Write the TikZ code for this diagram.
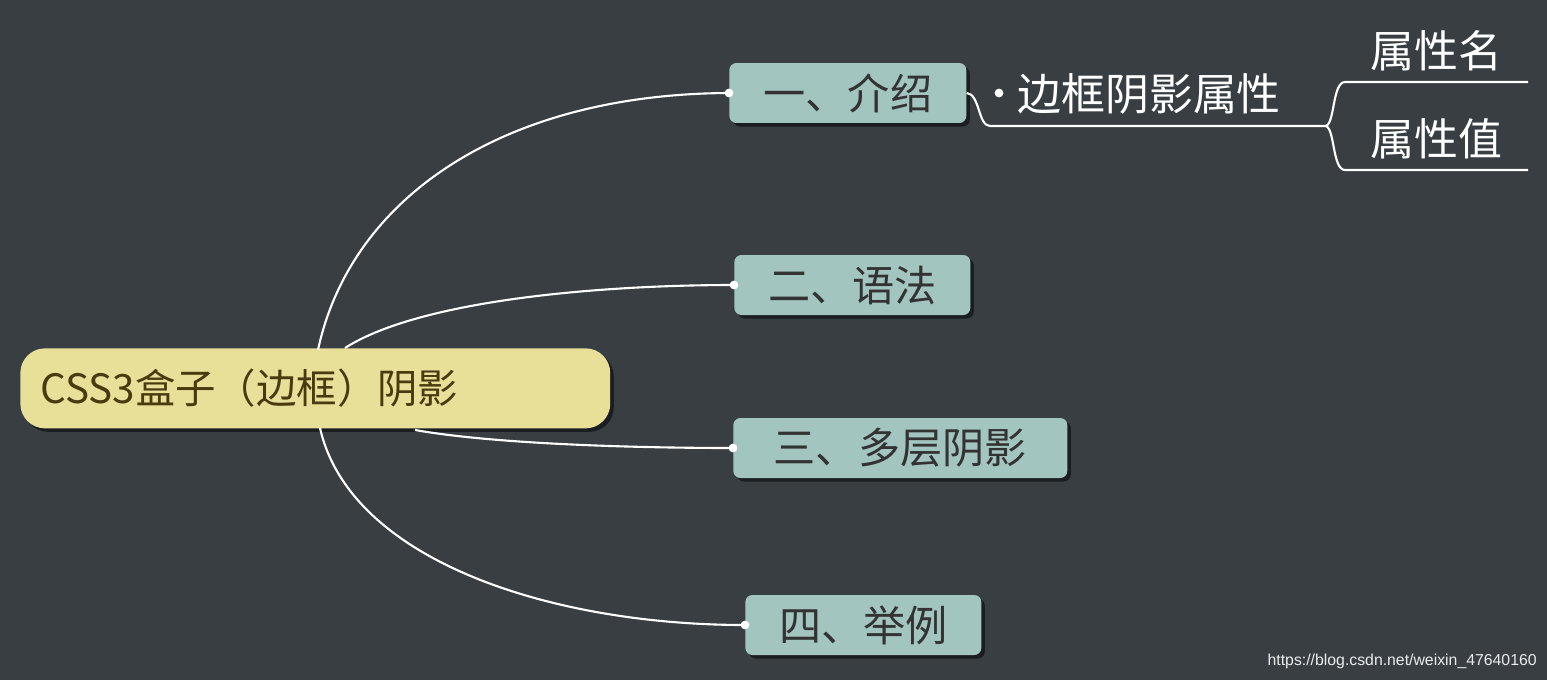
\documentclass[tikz,border=0pt]{standalone}
\usepackage{fontspec}
\setmainfont{Noto Sans CJK SC}
\newfontfamily\wmfont{Liberation Sans}
\usetikzlibrary{shadows}
\definecolor{bg}{HTML}{383E42}
\definecolor{rootc}{HTML}{E8DF98}
\definecolor{kidc}{HTML}{A3C5BF}
\definecolor{roottxt}{HTML}{4A3A10}
\definecolor{kidtxt}{HTML}{333333}
\tikzset{
 kid/.style={fill=kidc,rounded corners=4pt,text=kidtxt,font=\fontsize{24}{28}\selectfont,anchor=west,minimum height=1.2cm,inner xsep=10pt,drop shadow={shadow xshift=2pt,shadow yshift=-2pt,fill=black,opacity=0.5}},
 link/.style={draw=white,line width=1.2pt},
 sub/.style={text=white,font=\fontsize{25}{30}\selectfont,anchor=base west,inner sep=0pt}
}
\begin{document}
\begin{tikzpicture}[x=0.02cm,y=-0.02cm]
\fill[bg] (0,0) rectangle (1547,680);
\useasboundingbox (0,0) rectangle (1547,680);
\node[fill=rootc,rounded corners=14pt,text=roottxt,font=\fontsize{23}{28}\selectfont,minimum width=11.8cm,minimum height=1.6cm,anchor=north west,text width=11cm,align=left,drop shadow={shadow xshift=2pt,shadow yshift=-2pt,fill=black,opacity=0.5}] (root) at (20,348) {CSS3盒子（边框）阴影};
\node[kid,minimum width=4.74cm] (k1) at (729,93) {一、介绍};
\node[kid,minimum width=4.72cm] (k2) at (734,285) {二、语法};
\node[kid,minimum width=6.68cm] (k3) at (733,448) {三、多层阴影};
\node[kid,minimum width=4.72cm] (k4) at (745,625) {四、举例};
\coordinate (r1) at (318,350);
\coordinate (r2) at (345,348);
\coordinate (r3) at (415,430);
\coordinate (r4) at (320,428);
\draw[link] (r1) .. controls (350,200) and (500,94) .. (k1.west);
\draw[link] (r2) .. controls (420,300) and (600,285) .. (k2.west);
\draw[link] (r3) .. controls (500,445) and (650,448) .. (k3.west);
\draw[link] (r4) .. controls (350,560) and (550,625) .. (k4.west);
\foreach \k in {k1,k2,k3,k4} {\fill[white] (\k.west) circle (2.5pt);}
\coordinate (u0) at (990,126);
\coordinate (u1) at (1325,126);
\draw[link] (k1.east) .. controls (980,94) and (978,126) .. (u0) -- (u1);
\fill[white] (999,93) circle (2.5pt);
\node[sub] (s) at (1017,110) {边框阴影属性};
\coordinate (a1) at (1345,82);
\coordinate (a2) at (1345,170);
\coordinate (b1) at (1528,82);
\coordinate (b2) at (1528,170);
\draw[link] (u1) .. controls (1335,126) and (1332,82) .. (a1) -- (b1);
\draw[link] (u1) .. controls (1335,126) and (1332,170) .. (a2) -- (b2);
\node[sub] (p1) at (1370,67) {属性名};
\node[sub] (p2) at (1370,155) {属性值};
\node[text=white!85!gray,font=\wmfont\fontsize{9}{10}\selectfont,anchor=east,inner sep=0pt] (wm) at (1537,661) {https://blog.csdn.net/weixin\_47640160};
\end{tikzpicture}
\end{document}
